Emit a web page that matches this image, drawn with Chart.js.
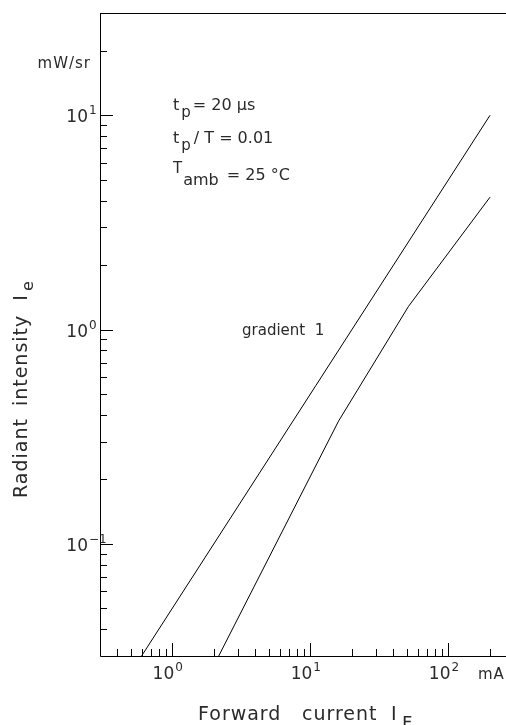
<!DOCTYPE html>
<html>
<head>
<meta charset="utf-8" />
<title>Radiant intensity vs forward current</title>
<script src="https://cdn.jsdelivr.net/npm/chart.js"></script>
<style>
  html, body { margin: 0; padding: 0; background: #fff; }
  #wrap { width: 506px; height: 725px; position: relative; }
</style>
</head>
<body>
<div id="wrap"><canvas id="chart"></canvas></div>
<script>
// forward current (mA) and radiant intensity (mW/sr)
const line1IF = [0.6, 200];
const line1Ie = [0.03, 10];
const line2IF = [2.17, 16, 51.4, 200];
const line2Ie = [0.03, 0.374, 1.284, 4.15];

// axis ticks
const xMajor = [1, 10, 100];
const xMajorExp = ['0', '1', '2'];
const xMinor = [0.4, 0.5, 0.6, 0.7, 0.8, 0.9, 2, 3, 4, 5, 6, 7, 8, 9, 20, 30, 40, 50, 60, 70, 80, 90, 200];
const yMajor = [0.1, 1, 10];
const yMajorExp = ['\u22121', '0', '1'];
const yMinor = [0.04, 0.05, 0.06, 0.07, 0.08, 0.09, 0.2, 0.3, 0.4, 0.5, 0.6, 0.7, 0.8, 0.9, 2, 3, 4, 5, 6, 7, 8, 9, 20];

const FONT = '"DejaVu Sans", sans-serif';
const INK = '#2a2a2a';

function pts(xs, ys) {
    return xs.map((x, i) => ({ x: x, y: ys[i] }));
}

// "10" + superscript exponent; the base ends at x
function supText(ctx, base, sup, x, y, size, supSize, rise) {
    ctx.font = size + 'px ' + FONT;
    const wb = ctx.measureText(base).width;
    ctx.textAlign = 'left';
    ctx.textBaseline = 'alphabetic';
    ctx.fillText(base, x - wb, y);
    ctx.font = supSize + 'px ' + FONT;
    ctx.fillText(sup, x + 1, y - rise);
}

function txt(ctx, s, x, y, size) {
    ctx.font = size + 'px ' + FONT;
    ctx.textAlign = 'left';
    ctx.textBaseline = 'alphabetic';
    ctx.fillText(s, x, y);
    return ctx.measureText(s).width;
}

const frame = {
    id: 'frame',
    afterDraw(chart) {
        const ctx = chart.ctx;
        const a = chart.chartArea;
        const xs = chart.scales.x, ys = chart.scales.y;
        ctx.save();
        ctx.strokeStyle = '#000';
        ctx.fillStyle = INK;
        ctx.lineWidth = 1;

        // axes + top border
        ctx.beginPath();
        ctx.moveTo(a.left + 0.5, a.top + 0.5);
        ctx.lineTo(a.right, a.top + 0.5);
        ctx.moveTo(a.left + 0.5, a.top);
        ctx.lineTo(a.left + 0.5, a.bottom + 0.5);
        ctx.lineTo(a.right, a.bottom + 0.5);
        ctx.stroke();

        // inward ticks
        ctx.beginPath();
        xMajor.forEach(v => {
            const px = Math.round(xs.getPixelForValue(v)) + 0.5;
            ctx.moveTo(px, a.bottom); ctx.lineTo(px, a.bottom - 13);
        });
        xMinor.forEach(v => {
            const px = Math.round(xs.getPixelForValue(v)) + 0.5;
            ctx.moveTo(px, a.bottom); ctx.lineTo(px, a.bottom - 7);
        });
        yMajor.forEach(v => {
            const py = Math.round(ys.getPixelForValue(v)) + 0.5;
            ctx.moveTo(a.left, py); ctx.lineTo(a.left + 13, py);
        });
        yMinor.forEach(v => {
            const py = Math.round(ys.getPixelForValue(v)) + 0.5;
            ctx.moveTo(a.left, py); ctx.lineTo(a.left + 7, py);
        });
        ctx.stroke();

        // tick labels
        xMajor.forEach((v, i) => {
            const px = xs.getPixelForValue(v);
            supText(ctx, '10', xMajorExp[i], px + 2, a.bottom + 23, 17, 12, 8);
        });
        yMajor.forEach((v, i) => {
            const py = ys.getPixelForValue(v);
            supText(ctx, '10', yMajorExp[i], a.left - 12, py + 7, 17, 12, 8);
        });

        // units
        ctx.font = '15px ' + FONT;
        ctx.letterSpacing = '1px';
        ctx.textAlign = 'right';
        ctx.fillText('mW/sr', a.left - 9, 68);
        ctx.textAlign = 'left';
        ctx.fillText('mA', 478, a.bottom + 23);

        // x title
        ctx.letterSpacing = '1px';
        txt(ctx, 'Forward', 198, 720, 19);
        txt(ctx, 'current', 302, 720, 19);
        txt(ctx, 'I', 391, 720, 19);
        txt(ctx, 'F', 402, 729, 18);

        // y title (rotated)
        ctx.save();
        ctx.translate(27, 498);
        ctx.rotate(-Math.PI / 2);
        let yx = 0;
        yx += txt(ctx, 'Radiant', yx, 0, 19);
        yx += 12;
        yx += txt(ctx, 'intensity', yx, 0, 19);
        yx += 14;
        yx += txt(ctx, 'I', yx, 0, 19) + 3;
        txt(ctx, 'e', yx, 6, 16);
        ctx.restore();
        ctx.letterSpacing = '0px';

        // conditions
        let cx = 173;
        cx += txt(ctx, 't', cx, 110, 16) + 2;
        cx += txt(ctx, 'p', cx, 117, 15) + 2;
        txt(ctx, '= 20 \u00b5s', cx, 110, 16);

        cx = 173;
        cx += txt(ctx, 't', cx, 143, 16) + 2;
        cx += txt(ctx, 'p', cx, 150, 15) + 3;
        txt(ctx, '/ T = 0.01', cx, 143, 16);

        cx = 173;
        cx += txt(ctx, 'T', cx, 173, 15) + 1;
        cx += txt(ctx, 'amb', cx, 185, 16) + 8;
        txt(ctx, '= 25 \u00b0C', cx, 180, 16);

        txt(ctx, 'gradient  1', 242, 335, 15);

        ctx.restore();
    }
};

new Chart(document.getElementById('chart'), {
    type: 'scatter',
    data: {
        datasets: [
            { data: pts(line1IF, line1Ie) },
            { data: pts(line2IF, line2Ie) }
        ]
    },
    options: {
        responsive: true,
        maintainAspectRatio: false,
        animation: false,
        showLine: true,
        layout: { padding: { left: 100, top: 13, right: 0, bottom: 69 } },
        elements: {
            line: { borderColor: '#000', borderWidth: 1, tension: 0 },
            point: { radius: 0, hoverRadius: 0 }
        },
        plugins: { legend: { display: false }, tooltip: { enabled: false } },
        scales: {
            x: { type: 'logarithmic', min: 0.303, max: 261, display: false },
            y: { type: 'logarithmic', min: 0.03, max: 30, display: false }
        }
    },
    plugins: [frame]
});
</script>
</body>
</html>
